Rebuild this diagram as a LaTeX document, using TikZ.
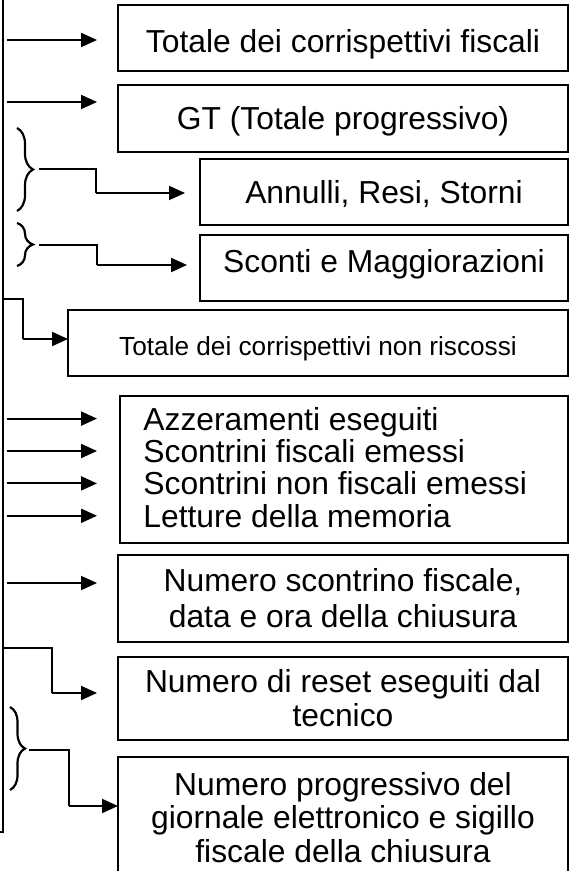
\documentclass[tikz,border=0pt]{standalone}
\usepackage{fontspec}
\setmainfont{Liberation Sans}
\usetikzlibrary{positioning}
\usetikzlibrary{arrows.meta}
\usetikzlibrary{decorations.pathreplacing}

\begin{document}
\begin{tikzpicture}[x=0.5pt, y=-0.5pt, >={Triangle[length=8pt, width=7pt]},
    box/.style={draw, line width=1pt, inner sep=0pt, outer sep=0pt, align=center, anchor=north east, font=\fontsize{15.9}{17}\selectfont},
    one/.style={text height=11.4pt, text depth=0pt},
    entry/.style={inner sep=0pt, anchor=base west, text height=11.4pt, text depth=0pt, font=\fontsize{15.9}{17}\selectfont},
    arr/.style={->, line width=1pt},
    elb/.style={line width=0.6pt},
    brc/.style={decorate, decoration={brace, amplitude=#1}, line width=1.1pt}]
\useasboundingbox (0,0) rectangle (570,871);

\node[box, one, text height=14.4pt, minimum width=225pt, minimum height=33pt] (b1) at (568,5) {Totale dei corrispettivi fiscali};
\node[box, one, minimum width=225pt, minimum height=33.5pt, below=7pt of b1.south east, anchor=north east] (b2) {GT (Totale progressivo)};
\node[box, one, minimum width=184pt, minimum height=33pt, below=3.5pt of b2.south east, anchor=north east] (b3) {Annulli, Resi, Storni};
\node[box, one, text depth=7pt, minimum width=184pt, minimum height=33pt, below=5pt of b3.south east, anchor=north east] (b4) {Sconti e Maggiorazioni};
\node[box, text height=12.4pt, text depth=0pt, font=\fontsize{13.1}{15}\selectfont, minimum width=250pt, minimum height=33pt, below=4.5pt of b4.south east, anchor=north east] (b5) {Totale dei corrispettivi non riscossi};
\node[box, minimum width=224pt, minimum height=73.5pt, below=10pt of b5.south east, anchor=north east] (b6) {};
\node[box, font=\fontsize{15.9}{18}\selectfont, minimum width=225pt, minimum height=43.5pt, below=6pt of b6.south east, anchor=north east] (b7) {Numero scontrino fiscale,\\data e ora della chiusura};
\node[box, minimum width=225pt, minimum height=41.5pt, below=7.5pt of b7.south east, anchor=north east] (b8) {Numero di reset eseguiti dal\\tecnico};
\node[box, font=\fontsize{15.9}{16.75}\selectfont, minimum width=225pt, minimum height=60.5pt, below=8.5pt of b8.south east, anchor=north east] (b9) {Numero progressivo del\\giornale elettronico e sigillo\\fiscale della chiusura};

% righe del riquadro con le quattro voci
\node[entry] (l1) at (143,430) {Azzeramenti eseguiti};
\node[entry, below=16.2pt of l1.base west, anchor=base west] (l2) {Scontrini fiscali emessi};
\node[entry, below=16.2pt of l2.base west, anchor=base west] (l3) {Scontrini non fiscali emessi};
\node[entry, below=16.2pt of l3.base west, anchor=base west] (l4) {Letture della memoria};

% linea verticale
\coordinate (top) at (3,0);
\coordinate (bot) at (3,832);
\draw[line width=0.75pt] (top) -- (bot) -- ++(-3,0);

\coordinate (s1) at (3,40);
\coordinate (s2) at (3,102);
\coordinate (s7) at (3,583);
\draw[arr, shorten <=2pt, shorten >=10.5pt] (s1) -- (s1 -| b1.west);
\draw[arr, shorten <=2pt, shorten >=10.5pt] (s2) -- (s2 -| b2.west);
\foreach \l in {l1,l2,l3,l4}
    \draw[arr, shorten <=2pt, shorten >=11.5pt] (top |- \l) -- (b6.west |- \l);
\draw[arr, shorten <=2pt, shorten >=10.5pt] (s7) -- (s7 -| b7.west);

% parentesi e collegamenti a gomito
\draw[brc=8pt] (17,128) -- (17,211);
\coordinate (t3) at (39,169);
\coordinate (k3) at (96,193);
\draw[elb] (t3) -| (k3);
\draw[arr, shorten >=7.5pt] (k3) -- (k3 -| b3.west);

\draw[brc=8pt] (17,223) -- (17,266);
\coordinate (t4) at (39,245);
\coordinate (k4) at (97,265);
\draw[elb] (t4) -| (k4);
\draw[arr, shorten >=6.5pt] (k4) -- (k4 -| b4.west);

\coordinate (s5) at (3,299);
\coordinate (k5) at (23,339);
\draw[elb] (s5) -| (k5);
\draw[arr] (k5) -- (k5 -| b5.west);

\coordinate (s8) at (3,648);
\coordinate (k8) at (52,693);
\draw[elb] (s8) -| (k8);
\draw[arr, shorten >=10.5pt] (k8) -- (k8 -| b8.west);

\draw[brc=7.5pt] (10,707) -- (10,790);
\coordinate (t9) at (29,750);
\coordinate (k9) at (69,806);
\draw[elb] (t9) -| (k9);
\draw[arr] (k9) -- (k9 -| b9.west);
\end{tikzpicture}
\end{document}
